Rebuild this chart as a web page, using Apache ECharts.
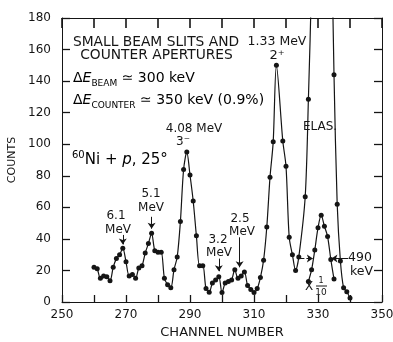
<!DOCTYPE html>
<html><head><meta charset="utf-8">
<script src="https://cdn.jsdelivr.net/npm/echarts@6/dist/echarts.min.js"></script>
<style>html,body{margin:0;padding:0;background:#fff}#c{width:393px;height:342px}</style>
</head><body><div id="c"></div>
<script>
// Channel numbers and counts (full scale trace)
const channels = [260,261,262,263,264,265,266,267,268,269,270,271,272,273,274,275,276,277,278,279,280,281,282,283,284,285,286,287,288,289,290,291,292,293,294,295,296,297,298,299,300,301,302,303,304,305,306,307,308,309,310,311,312,313,314,315,316,317,319,320,321,322,323,324,326,327,328,329,330,331,332,333,334,335,336,337,338,339,340];
const counts = [22,21,15,16.5,16,13.5,22,27.5,30,34,25.5,16.5,17.5,15,21.5,23,31,37,43.5,32.5,31.5,31.5,15,11,9,20.5,28.5,51,84,95,80.5,64,42,23,23,8.5,6.2,12,14,16,6,12,13,14,20.5,15,16.5,19,10.5,8,6,8.5,15.5,26.5,47.5,79,101.5,150,102,86,41,30,20,28.5,66.7,128.5,205,330,470,550,480,417,265,144,62,26,9,6.5,2.5];
// Elastic peak plotted at x 1/10
const elasChannels = [327,328,329,330,331,332,333,334,335];
const elasTenth = [13,20.5,33,47,55,48,41.5,27,14.5];
// Axis ticks
const xTickLabels = [250,270,290,310,330,350];
const yTickLabels = [0,20,40,60,80,100,120,140,160,180];

const FF = 'DejaVu Sans';
const INK = '#151515';
const pairs = (xs, ys) => xs.map((x, i) => [x, ys[i]]);

const chart = echarts.init(document.getElementById('c'), null, {renderer: 'canvas'});

function txt(x, y, text, size, align, extra) {
  return {
    type: 'text', x: x, y: y, silent: true, z: 100,
    style: Object.assign({text: text, fontFamily: FF, fontSize: size, fill: INK,
      align: align || 'center', verticalAlign: 'middle'}, extra || {})
  };
}

const richDelta = {
  a: {fontFamily: FF, fontSize: 14, lineHeight: 20, color: INK},
  e: {fontFamily: FF, fontSize: 14, lineHeight: 20, fontStyle: 'italic', color: INK},
  s: {fontFamily: FF, fontSize: 9, color: INK, verticalAlign: 'bottom'}
};
const richNi = {
  a: {fontFamily: FF, fontSize: 15, lineHeight: 20, color: INK},
  i: {fontFamily: FF, fontSize: 15, lineHeight: 20, fontStyle: 'italic', color: INK},
  s: {fontFamily: FF, fontSize: 10, color: INK, verticalAlign: 'top'}
};
const tickStyle = {color: INK, width: 1.3};

const option = {
  backgroundColor: '#fff',
  animation: false,
  grid: {left: 62, right: 11, top: 18, bottom: 40, containLabel: false, outerBoundsMode: 'none'},
  xAxis: [
    {type: 'value', position: 'bottom', min: 250, max: 350, interval: 20,
     name: 'CHANNEL NUMBER', nameLocation: 'middle', nameGap: 21,
     nameTextStyle: {fontFamily: FF, fontSize: 13, color: INK},
     axisLine: {show: true, onZero: false, lineStyle: {color: INK, width: 1}},
     axisTick: {show: true, inside: true, length: 7, lineStyle: tickStyle},
     minorTick: {show: true, splitNumber: 2, length: 7, lineStyle: tickStyle},
     axisLabel: {fontFamily: FF, fontSize: 12, color: INK, margin: 7,
       formatter: v => xTickLabels.includes(v) ? String(v) : ''},
     splitLine: {show: false}},
    {type: 'value', position: 'top', min: 250, max: 350, interval: 10,
     axisLine: {show: true, onZero: false, lineStyle: {color: INK, width: 1}},
     axisTick: {show: true, inside: true, length: 10, lineStyle: {color: INK, width: 1.6}},
     axisLabel: {show: false}, splitLine: {show: false}}
  ],
  yAxis: [
    {type: 'value', position: 'left', min: 0, max: 180, interval: 20,
     name: 'COUNTS', nameLocation: 'middle', nameGap: 40, nameRotate: 90,
     nameTextStyle: {fontFamily: FF, fontSize: 11, color: INK},
     axisLine: {show: true, onZero: false, lineStyle: {color: INK, width: 1}},
     axisTick: {show: true, inside: true, length: 8, lineStyle: tickStyle},
     axisLabel: {fontFamily: FF, fontSize: 12, color: INK, margin: 11,
       formatter: v => yTickLabels.includes(v) ? String(v) : ''},
     splitLine: {show: false}},
    {type: 'value', position: 'right', min: 0, max: 180, interval: 20,
     axisLine: {show: true, onZero: false, lineStyle: {color: INK, width: 1}},
     axisTick: {show: true, inside: true, length: 8, lineStyle: tickStyle},
     axisLabel: {show: false}, splitLine: {show: false}}
  ],
  series: [
    {type: 'line', name: 'counts', data: pairs(channels, counts), smooth: 0.3,
     clip: true, symbol: 'circle', symbolSize: 5,
     itemStyle: {color: INK}, lineStyle: {color: INK, width: 1.2},
     markLine: {silent: true, symbol: ['none', 'arrow'], symbolSize: 6,
       label: {show: false}, lineStyle: {color: INK, width: 1, type: 'solid'},
       data: [
         [{coord: [269, 42.5]}, {coord: [269, 36.5]}],
         [{coord: [278, 54]}, {coord: [278, 46.5]}],
         [{coord: [299, 27.5]}, {coord: [299, 19.5]}],
         [{coord: [305.5, 41]}, {coord: [305.5, 22]}],
         [{coord: [324.5, 27.5], lineStyle: {type: 'dashed'}}, {coord: [328.4, 27.5]}],
         [{coord: [339.4, 27.5]}, {coord: [334.2, 27.5]}]
       ]}},
    {type: 'line', name: 'elastic x1/10', data: pairs(elasChannels, elasTenth), smooth: 0.3,
     symbol: 'circle', symbolSize: 5,
     itemStyle: {color: INK}, lineStyle: {color: INK, width: 1.2}}
  ],
  graphic: [
    txt(156, 42, 'SMALL BEAM SLITS AND', 13.8),
    txt(156.5, 55.5, 'COUNTER APERTURES', 13.8),
    {type: 'text', x: 73, y: 78, silent: true, z: 100, style: {text: '{a|Δ}{e|E}{s|BEAM}{a| ≃ 300 keV}', rich: richDelta, align: 'left', verticalAlign: 'middle'}},
    {type: 'text', x: 73, y: 100, silent: true, z: 100, style: {text: '{a|Δ}{e|E}{s|COUNTER}{a| ≃ 350 keV (0.9%)}', rich: richDelta, align: 'left', verticalAlign: 'middle'}},
    {type: 'text', x: 72, y: 160, silent: true, z: 100, style: {text: '{s|60}{a|Ni + }{i|p}{a|, 25°}', rich: richNi, align: 'left', verticalAlign: 'middle'}},
    txt(194, 129, '4.08 MeV', 12),
    txt(183, 142, '3⁻', 12),
    txt(277, 42, '1.33 MeV', 12.5),
    txt(277, 55.5, '2⁺', 13),
    txt(320, 127, 'ELAS.', 12),
    txt(116, 216, '6.1', 12), txt(118, 230, 'MeV', 12),
    txt(151, 194, '5.1', 12), txt(151, 208, 'MeV', 12),
    txt(218, 240, '3.2', 12), txt(219, 253, 'MeV', 12),
    txt(240, 219, '2.5', 12), txt(242, 232, 'MeV', 12),
    txt(348, 258, '490', 12.5, 'left'),
    txt(350, 272, 'keV', 12.5, 'left'),
    txt(309, 287, 'X', 12),
    txt(321, 280.5, '1', 8),
    {type: 'line', silent: true, z: 100, shape: {x1: 316, y1: 286, x2: 327, y2: 286}, style: {stroke: INK, lineWidth: 1}},
    txt(321, 292.5, '10', 9)
  ]
};
chart.setOption(option);
</script>
</body></html>
